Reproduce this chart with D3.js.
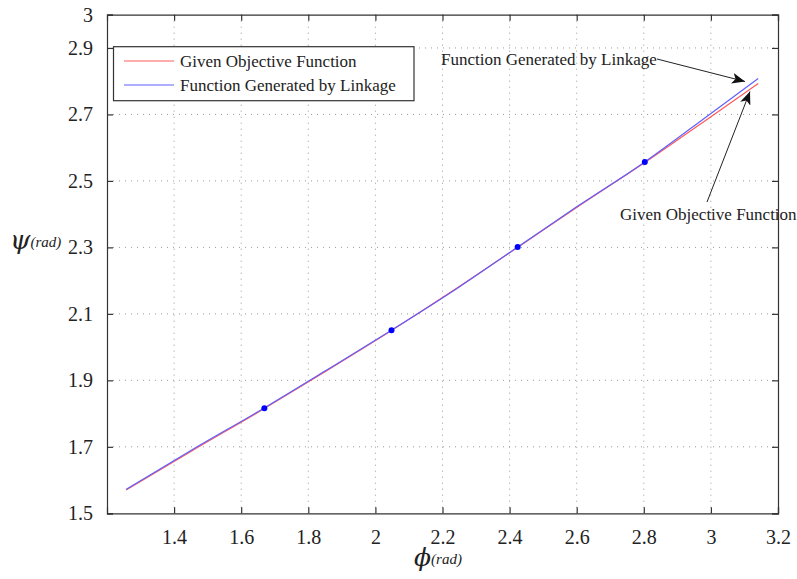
<!DOCTYPE html>
<html>
<head>
<meta charset="utf-8">
<script src="https://cdn.jsdelivr.net/npm/d3@7"></script>
<style>
  html, body { margin: 0; padding: 0; background: #fff; }
  svg { display: block; }
  text { font-family: "Liberation Serif", "Times New Roman", serif; fill: #222; }
</style>
</head>
<body>
<svg id="chart" width="797" height="579"></svg>
<script>
// Input crank angle phi (rad), sampled along the curve
const phiValues = [1.257, 1.45, 1.669, 1.85, 2.048, 2.25, 2.424, 2.6, 2.803, 3.0, 3.141];
// Desired output angle psi (rad)
const objectivePsi = [1.570, 1.686, 1.815, 1.926, 2.050, 2.182, 2.300, 2.420, 2.555, 2.693, 2.793];
// Output angle produced by the synthesized four-bar linkage
const linkagePsi = [1.572, 1.689, 1.817, 1.928, 2.051, 2.181, 2.301, 2.422, 2.557, 2.703, 2.808];
// Precision points where both curves coincide
const precisionPhi = [1.669, 2.048, 2.424, 2.803];
const precisionPsi = [1.816, 2.051, 2.301, 2.557];

const xTicks = [1.4, 1.6, 1.8, 2.0, 2.2, 2.4, 2.6, 2.8, 3.0, 3.2];
const yTicks = [1.5, 1.7, 1.9, 2.1, 2.3, 2.5, 2.7, 2.9, 3.0];
const seriesNames = ["Given Objective Function", "Function Generated by Linkage"];
const seriesColors = ["#ff5a5a", "#5f5fff"];

const serif = "'Liberation Serif', 'Times New Roman', serif";
const svg = d3.select("#chart");
const m = { left: 107, top: 14.7, right: 778, bottom: 513.3 };

const x = d3.scaleLinear().domain([1.2, 3.2]).range([m.left, m.right]);
const y = d3.scaleLinear().domain([1.5, 3.0]).range([m.bottom, m.top]);

// Dotted grid
const grid = svg.append("g").attr("stroke", "#999").attr("stroke-width", 1)
  .attr("stroke-dasharray", "1,5");
xTicks.filter(t => t < 3.2).forEach(t => {
  grid.append("line").attr("x1", x(t)).attr("x2", x(t)).attr("y1", m.top).attr("y2", m.bottom);
});
yTicks.filter(t => t > 1.5 && t < 3.0).forEach(t => {
  grid.append("line").attr("x1", m.left).attr("x2", m.right).attr("y1", y(t)).attr("y2", y(t));
});

// Axes with inward ticks, box frame
const fmt = d => String(+d.toFixed(1));
svg.append("g").attr("transform", `translate(0,${m.bottom})`)
  .call(d3.axisBottom(x).tickValues(xTicks).tickSize(-6).tickPadding(17).tickFormat(fmt));
svg.append("g").attr("transform", `translate(${m.left},0)`)
  .call(d3.axisLeft(y).tickValues(yTicks).tickSize(-6).tickPadding(14).tickFormat(fmt));
svg.append("g").attr("transform", `translate(${m.right},0)`)
  .call(d3.axisRight(y).tickValues(yTicks).tickSize(-6).tickFormat(""));
svg.append("g").attr("transform", `translate(0,${m.top})`)
  .call(d3.axisTop(x).tickValues(xTicks).tickSize(-6).tickFormat(""));
svg.selectAll("g").attr("font-family", null);
svg.selectAll(".domain").attr("stroke", "#333").attr("stroke-width", 1.2);
svg.selectAll(".tick line").attr("stroke", "#333").attr("stroke-width", 1.2);
svg.selectAll(".tick text").style("font-family", serif)
  .style("font-size", "20px").attr("fill", "#222");

// Curves
const line = d3.line().x(d => x(d[0])).y(d => y(d[1])).curve(d3.curveMonotoneX);
[objectivePsi, linkagePsi].forEach((vals, i) => {
  svg.append("path")
    .datum(phiValues.map((p, k) => [p, vals[k]]))
    .attr("fill", "none").attr("stroke", seriesColors[i]).attr("stroke-width", 1.2)
    .attr("d", line);
});

// Precision points
svg.append("g").selectAll("circle").data(precisionPhi).join("circle")
  .attr("cx", d => x(d)).attr("cy", (d, i) => y(precisionPsi[i]))
  .attr("r", 3).attr("fill", "#0000ff");

// Legend
const lg = svg.append("g");
lg.append("rect").attr("x", 113.5).attr("y", 46.7).attr("width", 300.5).attr("height", 54)
  .attr("fill", "#fff").attr("stroke", "#333").attr("stroke-width", 1.2);
seriesNames.forEach((name, i) => {
  const yy = 61 + i * 24;
  lg.append("line").attr("x1", 124).attr("x2", 174).attr("y1", yy).attr("y2", yy)
    .attr("stroke", seriesColors[i]).attr("stroke-width", 1.2);
  lg.append("text").attr("x", 180).attr("y", yy + 5.5)
    .style("font-family", serif).style("font-size", "17px").text(name);
});

// Annotations with arrows
const defs = svg.append("defs");
defs.append("marker").attr("id", "arrow").attr("viewBox", "0 0 12 10")
  .attr("refX", 12).attr("refY", 5).attr("markerWidth", 13).attr("markerHeight", 11)
  .attr("markerUnits", "userSpaceOnUse").attr("orient", "auto")
  .append("path").attr("d", "M0,0 L12,5 L0,10 L3,5 Z").attr("fill", "#111");

svg.append("text").attr("x", 441).attr("y", 65)
  .style("font-family", serif).style("font-size", "17px").text(seriesNames[1]);
svg.append("line").attr("x1", 657).attr("y1", 59).attr("x2", 745).attr("y2", 81.5)
  .attr("stroke", "#222").attr("stroke-width", 1).attr("marker-end", "url(#arrow)");

svg.append("text").attr("x", 620).attr("y", 220)
  .style("font-family", serif).style("font-size", "17px").text(seriesNames[0]);
svg.append("line").attr("x1", 707).attr("y1", 202).attr("x2", 750).attr("y2", 91.5)
  .attr("stroke", "#222").attr("stroke-width", 1).attr("marker-end", "url(#arrow)");

// Axis titles
const xt = svg.append("text").attr("x", 414).attr("y", 566).style("font-style", "italic");
xt.append("tspan").style("font-size", "25px").style("font-family", "'DejaVu Serif', serif").text("ϕ");
xt.append("tspan").style("font-size", "15px").style("font-family", serif).attr("dy", -2).text("(rad)");

const yt = svg.append("text").attr("x", 10).attr("y", 249).style("font-style", "italic");
yt.append("tspan").style("font-size", "26px").style("font-family", "'DejaVu Serif', serif").text("ψ");
yt.append("tspan").style("font-size", "15px").style("font-family", serif).attr("dy", -2).text("(rad)");
</script>
</body>
</html>
